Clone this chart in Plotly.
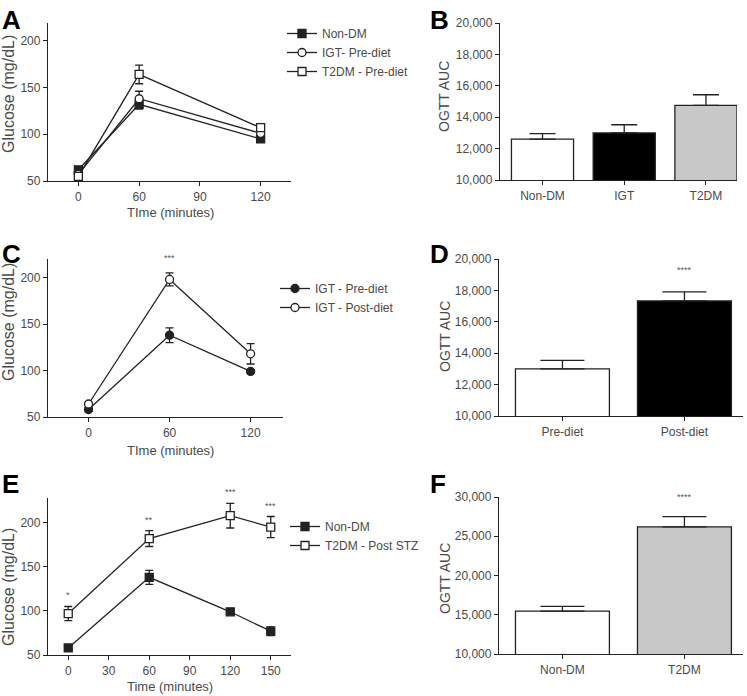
import plotly.graph_objects as go

W, H = 747, 696

# ---------------- data ----------------
# Panel A
a_time = ["0", "60", "120"]
a_categories = ["0", "60", "90", "120"]
a_nondm = [62, 132, 95]
a_nondm_err = [3, 5, 3]
a_igt = [57, 138, 101]
a_igt_err = [3, 8, 3]
a_t2dm = [55, 164, 107]
a_t2dm_err = [4, 10, 4]

# Panel B
b_groups = ["Non-DM", "IGT", "T2DM"]
b_auc = [12600, 13000, 14750]
b_err = [350, 520, 680]

# Panel C
c_time = [0, 60, 120]
c_pre = [58, 138, 99]
c_pre_err = [2, 8, 2]
c_post = [64, 198, 118]
c_post_err = [2, 7, 11]
c_stars = ["", "***", ""]

# Panel D
d_groups = ["Pre-diet", "Post-diet"]
d_auc = [13000, 17330]
d_err = [540, 580]
d_stars = ["", "****"]

# Panel E
e_time = [0, 60, 120, 150]
e_nondm = [58, 138, 99, 77]
e_nondm_err = [2, 8, 2, 5]
e_t2dm = [97, 182, 208, 195]
e_t2dm_err = [8, 9, 14, 12]
e_stars = ["*", "**", "***", "***"]

# Panel F
f_groups = ["Non-DM", "T2DM"]
f_auc = [15450, 26200]
f_err = [620, 1300]
f_stars = ["", "****"]

# ---------------- helpers ----------------
FONT = "Liberation Sans, Arial, Helvetica, sans-serif"
AX = "#222222"
TXT = "#4a4a4a"


def dx(a, b):
    return [a / W, b / W]


def dy(top, bottom):
    return [1 - bottom / H, 1 - top / H]


def err(arr, w=4, sym=True):
    d = dict(type="data", array=arr, color=AX, thickness=1.3, width=w, visible=True)
    if not sym:
        d["symmetric"] = False
        d["arrayminus"] = [0] * len(arr)
    return d


def marker(symbol, filled):
    return dict(symbol=symbol, size=8, color=AX if filled else "white",
                line=dict(color=AX, width=1.3))


fig = go.Figure()

# Panel A
for name, vals, e, sym, filled in [
    ("Non-DM", a_nondm, a_nondm_err, "square", True),
    ("IGT- Pre-diet", a_igt, a_igt_err, "circle", False),
    ("T2DM - Pre-diet", a_t2dm, a_t2dm_err, "square", False),
]:
    fig.add_trace(go.Scatter(x=a_time, y=vals, name=name, mode="lines+markers",
                             line=dict(color=AX, width=1.3), marker=marker(sym, filled),
                             error_y=err(e), xaxis="x", yaxis="y", legend="legend"))

# Panel B
fig.add_trace(go.Bar(x=b_groups, y=b_auc, width=0.76,
                     marker=dict(color=["white", "black", "#c8c8c8"], line=dict(color=AX, width=1.3)),
                     error_y=err(b_err, 13, False), xaxis="x2", yaxis="y2", showlegend=False))

# Panel C
for name, vals, e, filled in [
    ("IGT - Pre-diet", c_pre, c_pre_err, True),
    ("IGT - Post-diet", c_post, c_post_err, False),
]:
    fig.add_trace(go.Scatter(x=c_time, y=vals, name=name, mode="lines+markers",
                             line=dict(color=AX, width=1.3), marker=marker("circle", filled),
                             error_y=err(e), xaxis="x3", yaxis="y3", legend="legend2"))

# Panel D
fig.add_trace(go.Bar(x=d_groups, y=d_auc, width=0.77,
                     marker=dict(color=["white", "black"], line=dict(color=AX, width=1.3)),
                     error_y=err(d_err, 22, False), xaxis="x4", yaxis="y4", showlegend=False))

# Panel E
for name, vals, e, filled in [
    ("Non-DM", e_nondm, e_nondm_err, True),
    ("T2DM - Post STZ", e_t2dm, e_t2dm_err, False),
]:
    fig.add_trace(go.Scatter(x=e_time, y=vals, name=name, mode="lines+markers",
                             line=dict(color=AX, width=1.3), marker=marker("square", filled),
                             error_y=err(e), xaxis="x5", yaxis="y5", legend="legend3"))

# Panel F
fig.add_trace(go.Bar(x=f_groups, y=f_auc, width=0.77,
                     marker=dict(color=["white", "#c8c8c8"], line=dict(color=AX, width=1.3)),
                     error_y=err(f_err, 22, False), xaxis="x6", yaxis="y6", showlegend=False))

# ---------------- axes ----------------
base_ax = dict(showline=True, linecolor=AX, linewidth=1.3, ticks="outside", ticklen=4,
               tickcolor=AX, tickwidth=1.3, showgrid=False, zeroline=False,
               tickfont=dict(family=FONT, size=12, color=TXT), automargin=False)

layout_axes = {}
# A
layout_axes["xaxis"] = dict(base_ax, domain=dx(48, 291), anchor="y", type="category",
                            categoryorder="array", categoryarray=a_categories, range=[-0.5, 3.5])
layout_axes["yaxis"] = dict(base_ax, domain=dy(23, 181), anchor="x", range=[50, 219], dtick=50)
# B
layout_axes["xaxis2"] = dict(base_ax, domain=dx(500, 737), anchor="y2", type="category",
                             range=[-0.52, 2.38])
layout_axes["yaxis2"] = dict(base_ax, domain=dy(23, 180), anchor="x2", range=[10000, 20000],
                             dtick=2000, tickformat=",")
# C
layout_axes["xaxis3"] = dict(base_ax, domain=dx(48, 283), anchor="y3", range=[-30, 144],
                             tickvals=c_time)
layout_axes["yaxis3"] = dict(base_ax, domain=dy(259, 417), anchor="x3", range=[50, 220], dtick=50)
# D
layout_axes["xaxis4"] = dict(base_ax, domain=dx(499, 743), anchor="y4", type="category",
                             range=[-0.52, 1.48])
layout_axes["yaxis4"] = dict(base_ax, domain=dy(259, 416), anchor="x4", range=[10000, 20000],
                             dtick=2000, tickformat=",")
# E
layout_axes["xaxis5"] = dict(base_ax, domain=dx(48, 291), anchor="y5", range=[-15, 165], dtick=30)
layout_axes["yaxis5"] = dict(base_ax, domain=dy(498, 655), anchor="x5", range=[50, 228], dtick=50)
# F
layout_axes["xaxis6"] = dict(base_ax, domain=dx(499, 743), anchor="y6", type="category",
                             range=[-0.52, 1.48])
layout_axes["yaxis6"] = dict(base_ax, domain=dy(497, 654), anchor="x6", range=[10000, 30000],
                             dtick=5000, tickformat=",")

# ---------------- annotations ----------------
ann = []
for letter, px, py in [("A", 0, 3), ("B", 428, 3), ("C", 0, 237), ("D", 428, 237),
                       ("E", 0, 467), ("F", 428, 467)]:
    ann.append(dict(text="<b>%s</b>" % letter, x=px / W, y=1 - py / H, xref="paper", yref="paper",
                    xanchor="left", yanchor="top", showarrow=False,
                    font=dict(family=FONT, size=26, color="black")))

# axis titles (placed as text)
for text, px, py in [("TIme (minutes)", 170, 213), ("TIme (minutes)", 170, 450),
                     ("Time (minutes)", 170, 686)]:
    ann.append(dict(text=text, x=px / W, y=1 - py / H, xref="paper", yref="paper",
                    xanchor="center", yanchor="middle", showarrow=False,
                    font=dict(family=FONT, size=13, color=TXT)))
for text, px, py, fs in [("Glucose (mg/dL)", 8, 94, 16), ("Glucose (mg/dL)", 8, 322, 16),
                         ("Glucose (mg/dL)", 8, 587, 16), ("OGTT AUC", 444, 96, 14),
                         ("OGTT AUC", 445, 337, 14), ("OGTT AUC", 445, 579, 14)]:
    ann.append(dict(text=text, x=px / W, y=1 - py / H, xref="paper", yref="paper",
                    xanchor="center", yanchor="middle", showarrow=False, textangle=-90,
                    font=dict(family=FONT, size=fs, color=TXT)))

star_font = dict(family=FONT, size=9, color="#555")


def add_stars(xs, vals, errs, stars, xa, ya, shift):
    for x, v, e, s in zip(xs, vals, errs, stars):
        if s:
            ann.append(dict(text=s, x=x, y=v + e, xref=xa, yref=ya, yshift=shift,
                            showarrow=False, font=star_font, yanchor="middle"))


add_stars(c_time, c_post, c_post_err, c_stars, "x3", "y3", 15)
add_stars(d_groups, d_auc, d_err, d_stars, "x4", "y4", 22)
add_stars(e_time, e_t2dm, e_t2dm_err, e_stars, "x5", "y5", 11)
add_stars(f_groups, f_auc, f_err, f_stars, "x6", "y6", 20)

leg = dict(xanchor="left", yanchor="top", bgcolor="rgba(0,0,0,0)",
           font=dict(family=FONT, size=12, color=TXT), itemwidth=30, tracegroupgap=0)

fig.update_layout(
    width=W, height=H, margin=dict(l=0, r=0, t=0, b=0),
    paper_bgcolor="white", plot_bgcolor="white",
    font=dict(family=FONT),
    legend=dict(leg, x=282 / W, y=1 - 19 / H),
    legend2=dict(leg, x=275 / W, y=1 - 274 / H),
    legend3=dict(leg, x=285 / W, y=1 - 512 / H),
    annotations=ann,
    **layout_axes,
)

fig.write_html("out.html", config={"displayModeBar": False},
               post_script="document.body.style.margin='0';")
